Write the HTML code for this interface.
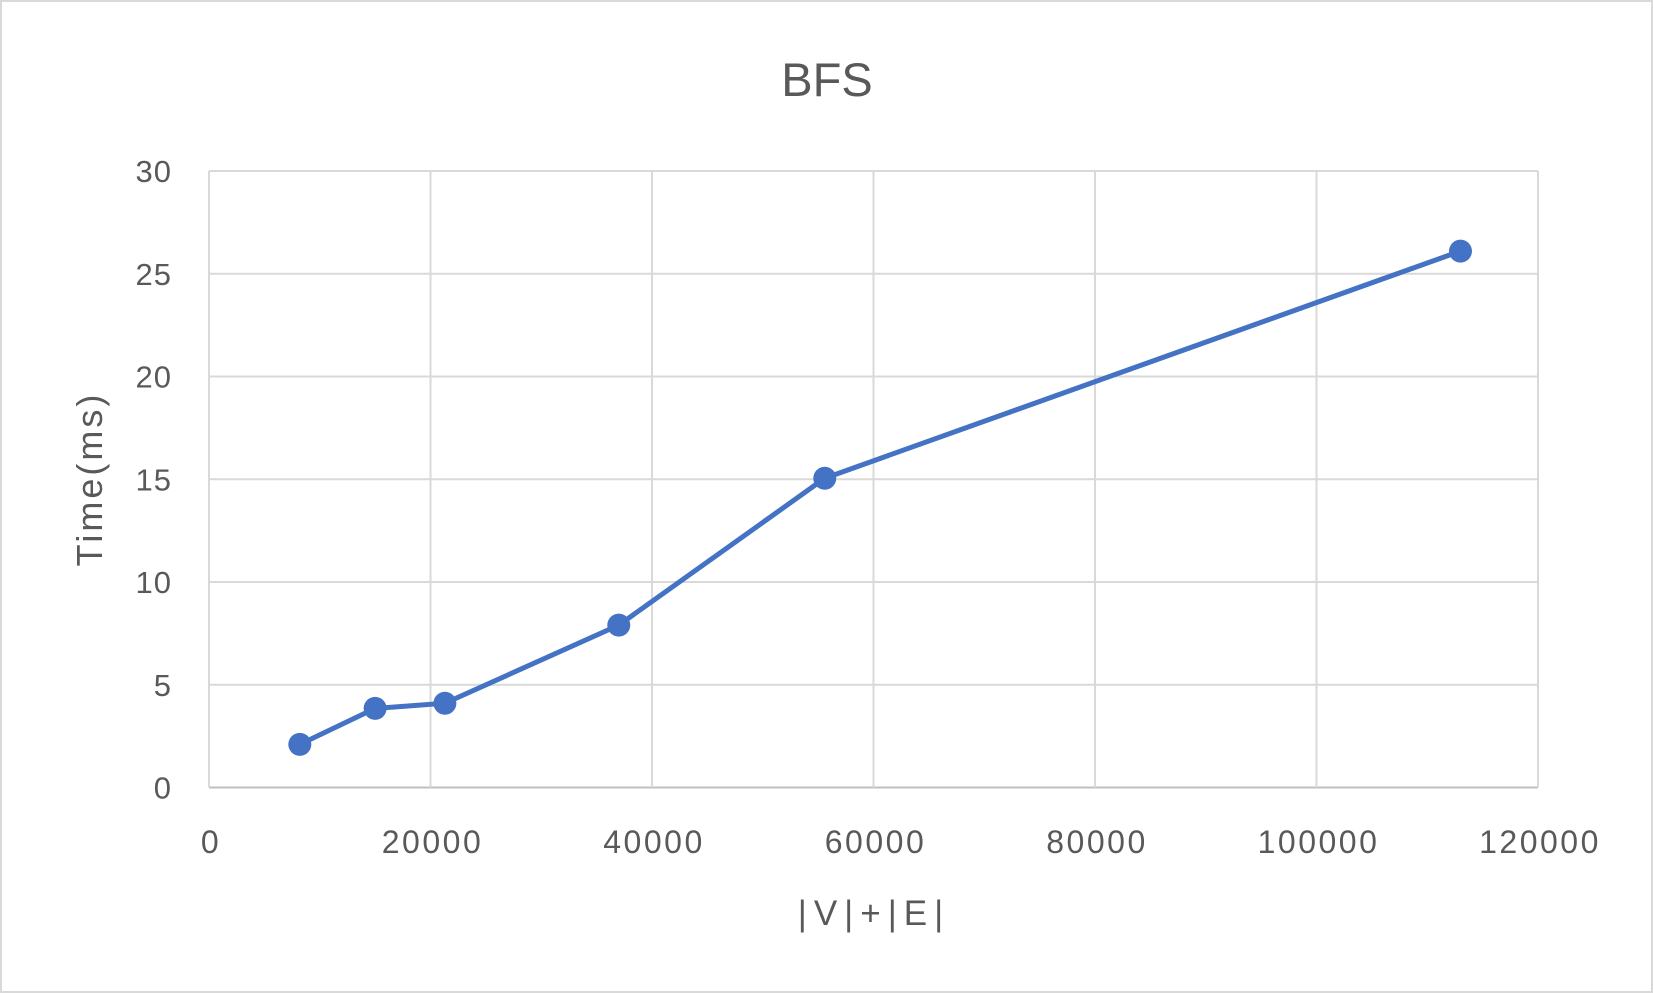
<!DOCTYPE html>
<html><head><meta charset="utf-8"><style>
html,body{margin:0;padding:0;background:#fff}
svg{display:block;font-family:"Liberation Sans",sans-serif}
</style></head><body>
<svg id="chart" width="1653" height="993" viewBox="0 0 1653 993">
<rect x="1" y="1" width="1651" height="991" fill="#fff" stroke="#d9d9d9" stroke-width="2"/>
<text x="827" y="96" text-anchor="middle" font-size="47" fill="#595959">BFS</text>
<g id="grid"></g><g id="ticks"></g><g id="series"></g>
<text x="874" y="925" text-anchor="middle" font-size="35" letter-spacing="7" fill="#595959">|V|+|E|</text>
<text transform="translate(102,479) rotate(-90)" text-anchor="middle" font-size="36" letter-spacing="3" fill="#595959">Time(ms)</text>
</svg>
<script>
const xs=[8200,15000,21300,37000,55600,113000];
const ys=[2.1,3.85,4.1,7.9,15.05,26.1];
const xTicks=[0,20000,40000,60000,80000,100000,120000];
const yTicks=[0,5,10,15,20,25,30];
const L=209,R=1538,T=171,B=787.5;
const sx=v=>L+(v-0)/120000*(R-L);
const sy=v=>B-(v/30)*(B-T);
const NS="http://www.w3.org/2000/svg";
function mk(tag,attrs,parent){const e=document.createElementNS(NS,tag);for(const k in attrs)e.setAttribute(k,attrs[k]);parent.appendChild(e);return e;}
const grid=document.getElementById('grid'),ticks=document.getElementById('ticks'),ser=document.getElementById('series');
yTicks.forEach(t=>{
 const l=mk('line',{x1:L,x2:R,y1:sy(t),y2:sy(t),stroke:t===0?'#bfbfbf':'#d9d9d9','stroke-width':2},grid);
 
 
 const tx=mk('text',{x:L-37,y:sy(t)+11,'text-anchor':'end','font-size':31,'letter-spacing':1,fill:'#595959'},ticks);
 tx.textContent=t;
 
 
});
xTicks.forEach(t=>{
 const l=mk('line',{x1:sx(t),x2:sx(t),y1:T,y2:B,stroke:'#d9d9d9','stroke-width':2},grid);
 
 
 const tx=mk('text',{x:sx(t)+2,y:853,'text-anchor':'middle','font-size':32,'letter-spacing':2.5,fill:'#595959'},ticks);
 tx.textContent=t;
 
 
});
const pts=xs.map((x,i)=>sx(x)+','+sy(ys[i])).join(' ');
const pl=mk('polyline',{points:pts,fill:'none',stroke:'#4472c4','stroke-width':5,'stroke-linejoin':'round'},ser);


xs.forEach((x,i)=>{
 const c=mk('circle',{cx:sx(x),cy:sy(ys[i]),r:11.5,fill:'#4472c4'},ser);
 
 
});
</script>
</body></html>
